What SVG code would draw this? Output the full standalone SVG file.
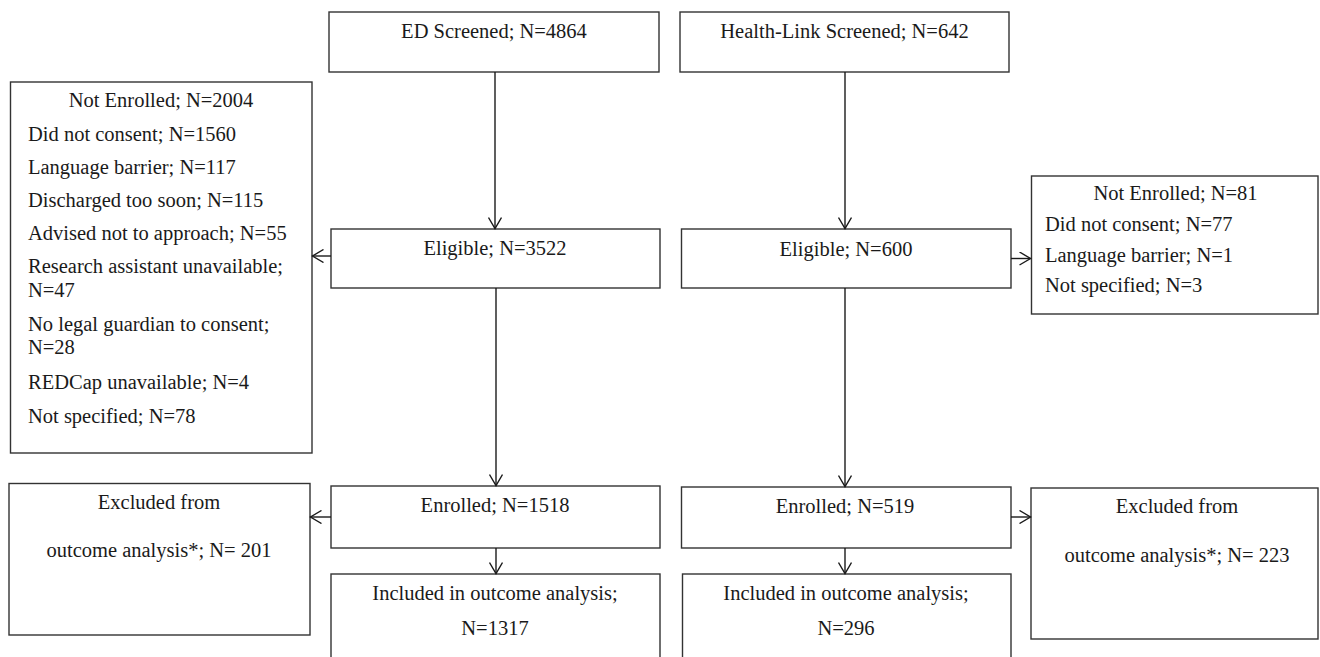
<svg xmlns="http://www.w3.org/2000/svg" width="1320" height="657" viewBox="0 0 1320 657" font-family="'Liberation Serif', 'Times New Roman', Tinos, 'DejaVu Serif', serif">
<defs>
<style>
.box{fill:#fff;stroke:#333;stroke-width:1.4}
.t{font-family:'Liberation Serif','Times New Roman',Tinos,'DejaVu Serif',serif;font-size:20.5px;fill:#1a1a1a}
.c{text-anchor:middle}
.ln{fill:none;stroke:#1a1a1a;stroke-width:1.4}
</style>
<marker id="ah" markerWidth="14" markerHeight="14" refX="12" refY="7" orient="auto" markerUnits="userSpaceOnUse">
<path d="M1,0.5 L12,7 L1,13.5" fill="none" stroke="#1a1a1a" stroke-width="1.4"/>
</marker>
</defs>
<rect width="1320" height="657" fill="#fff"/>

<g id="ed-screened">
<rect class="box" x="329" y="12" width="330" height="60"/>
<text class="t c" x="494" y="38">ED Screened; N=4864</text>
</g>
<g id="hl-screened">
<rect class="box" x="680" y="12" width="329" height="60"/>
<text class="t c" x="844.5" y="38">Health-Link Screened; N=642</text>
</g>
<g id="ed-not-enrolled">
<rect class="box" x="10.5" y="82" width="301.5" height="371"/>
<text class="t c" x="161" y="107">Not Enrolled; N=2004</text>
<text class="t" x="28" y="140.5">Did not consent; N=1560</text>
<text class="t" x="28" y="174">Language barrier; N=117</text>
<text class="t" x="28" y="207">Discharged too soon; N=115</text>
<text class="t" x="28" y="240">Advised not to approach; N=55</text>
<text class="t" x="28" y="273">Research assistant unavailable;</text>
<text class="t" x="28" y="297">N=47</text>
<text class="t" x="28" y="330.5">No legal guardian to consent;</text>
<text class="t" x="28" y="354">N=28</text>
<text class="t" x="28" y="389">REDCap unavailable; N=4</text>
<text class="t" x="28" y="422.5">Not specified; N=78</text>
</g>
<g id="ed-eligible">
<rect class="box" x="331" y="229" width="329" height="59"/>
<text class="t c" x="495" y="255">Eligible; N=3522</text>
</g>
<g id="hl-eligible">
<rect class="box" x="681.5" y="229" width="329.5" height="59"/>
<text class="t c" x="846" y="256">Eligible; N=600</text>
</g>
<g id="hl-not-enrolled">
<rect class="box" x="1031.5" y="176" width="286.5" height="138"/>
<text class="t c" x="1175.5" y="200">Not Enrolled; N=81</text>
<text class="t" x="1045" y="231">Did not consent; N=77</text>
<text class="t" x="1045" y="262">Language barrier; N=1</text>
<text class="t" x="1045" y="292">Not specified; N=3</text>
</g>
<g id="ed-excluded">
<rect class="box" x="9" y="483.5" width="301" height="151.5"/>
<text class="t c" x="159" y="509">Excluded from</text>
<text class="t c" x="159" y="557">outcome analysis*; N= 201</text>
</g>
<g id="ed-enrolled">
<rect class="box" x="331" y="486" width="329" height="62"/>
<text class="t c" x="495" y="512">Enrolled; N=1518</text>
</g>
<g id="hl-enrolled">
<rect class="box" x="681.5" y="487" width="329.5" height="61"/>
<text class="t c" x="845" y="512.5">Enrolled; N=519</text>
</g>
<g id="hl-excluded">
<rect class="box" x="1031" y="488" width="287" height="151"/>
<text class="t c" x="1177" y="513">Excluded from</text>
<text class="t c" x="1177" y="561.5">outcome analysis*; N= 223</text>
</g>
<g id="ed-included">
<rect class="box" x="331" y="574" width="329" height="100"/>
<text class="t c" x="495" y="600">Included in outcome analysis;</text>
<text class="t c" x="495" y="635">N=1317</text>
</g>
<g id="hl-included">
<rect class="box" x="682.5" y="574" width="328.5" height="100"/>
<text class="t c" x="846" y="600">Included in outcome analysis;</text>
<text class="t c" x="846" y="635">N=296</text>
</g>

<g id="connectors">
<line class="ln" x1="495" y1="72" x2="495" y2="228.5" marker-end="url(#ah)"/>
<line class="ln" x1="845" y1="72" x2="845" y2="228.5" marker-end="url(#ah)"/>
<line class="ln" x1="331" y1="256" x2="312.5" y2="256" marker-end="url(#ah)"/>
<line class="ln" x1="1011" y1="258.5" x2="1030.5" y2="258.5" marker-end="url(#ah)"/>
<line class="ln" x1="496" y1="288" x2="496" y2="485.5" marker-end="url(#ah)"/>
<line class="ln" x1="845" y1="288" x2="845" y2="486.5" marker-end="url(#ah)"/>
<line class="ln" x1="331" y1="517" x2="310.5" y2="517" marker-end="url(#ah)"/>
<line class="ln" x1="1011" y1="517" x2="1030.5" y2="517" marker-end="url(#ah)"/>
<line class="ln" x1="496" y1="548" x2="496" y2="573.5" marker-end="url(#ah)"/>
<line class="ln" x1="845" y1="548" x2="845" y2="573.5" marker-end="url(#ah)"/>
</g>
</svg>
